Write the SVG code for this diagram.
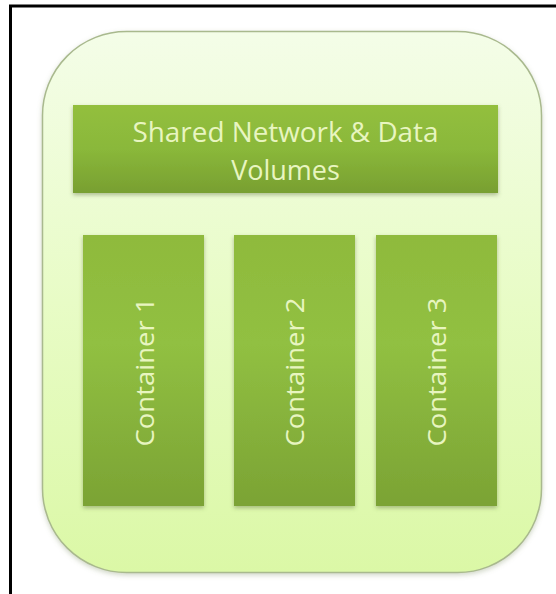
<svg xmlns="http://www.w3.org/2000/svg" width="556" height="594" viewBox="0 0 556 594">
<defs>
<linearGradient id="gOuter" x1="0" y1="0" x2="0" y2="1">
<stop offset="0" stop-color="#f4fde8"/>
<stop offset="0.5" stop-color="#e8fcc6"/>
<stop offset="1" stop-color="#dbf8a6"/>
</linearGradient>
<linearGradient id="gBox" x1="0" y1="0" x2="0" y2="1">
<stop offset="0" stop-color="#93bf3e"/>
<stop offset="0.5" stop-color="#8ab83a"/>
<stop offset="1" stop-color="#789f31"/>
</linearGradient>
<linearGradient id="gCont" x1="0" y1="0" x2="0" y2="1">
<stop offset="0" stop-color="#8fba3c"/>
<stop offset="0.4" stop-color="#91c042"/>
<stop offset="1" stop-color="#7ba334"/>
</linearGradient>
<filter id="sh" x="-10%" y="-10%" width="120%" height="120%">
<feDropShadow dx="0" dy="2" stdDeviation="2" flood-color="#5a6a3a" flood-opacity="0.45"/>
</filter>
<filter id="shO" x="-10%" y="-10%" width="120%" height="120%">
<feDropShadow dx="0" dy="2" stdDeviation="2.5" flood-color="#7a8a60" flood-opacity="0.35"/>
</filter>
</defs>
<style>
.lbl{font-family:"Open Sans","Liberation Sans",sans-serif;fill:#e8f5c0;text-anchor:middle}
.box{fill:url(#gBox);filter:url(#sh)}
.cont{fill:url(#gCont);filter:url(#sh)}
</style>
<rect x="0" y="0" width="556" height="594" fill="#ffffff"/>
<g id="frame">
<line x1="10.5" y1="5" x2="10.5" y2="594" stroke="#000" stroke-width="3"/>
<line x1="9" y1="6" x2="556" y2="6" stroke="#000" stroke-width="3"/>
</g>
<g id="pod">
<rect x="42.5" y="31.5" width="499" height="541" rx="84" ry="84" fill="url(#gOuter)" stroke="#a9b98e" stroke-width="1.5" filter="url(#shO)"/>
</g>
<g id="shared">
<rect class="box" x="73" y="105" width="425" height="88"/>
<text class="lbl" x="285.5" y="142" font-size="27" textLength="306" lengthAdjust="spacingAndGlyphs">Shared Network &amp; Data</text>
<text class="lbl" x="285.5" y="180" font-size="27">Volumes</text>
</g>
<g id="container1">
<rect class="cont" x="83" y="235" width="121" height="271"/>
<text class="lbl" transform="translate(154,372) rotate(-90)" font-size="26" textLength="149" lengthAdjust="spacingAndGlyphs">Container 1</text>
</g>
<g id="container2">
<rect class="cont" x="234" y="235" width="121" height="271"/>
<text class="lbl" transform="translate(304,372) rotate(-90)" font-size="26" textLength="149" lengthAdjust="spacingAndGlyphs">Container 2</text>
</g>
<g id="container3">
<rect class="cont" x="376" y="235" width="121" height="271"/>
<text class="lbl" transform="translate(446,372) rotate(-90)" font-size="26" textLength="149" lengthAdjust="spacingAndGlyphs">Container 3</text>
</g>
<g id="connectors"></g>
</svg>
